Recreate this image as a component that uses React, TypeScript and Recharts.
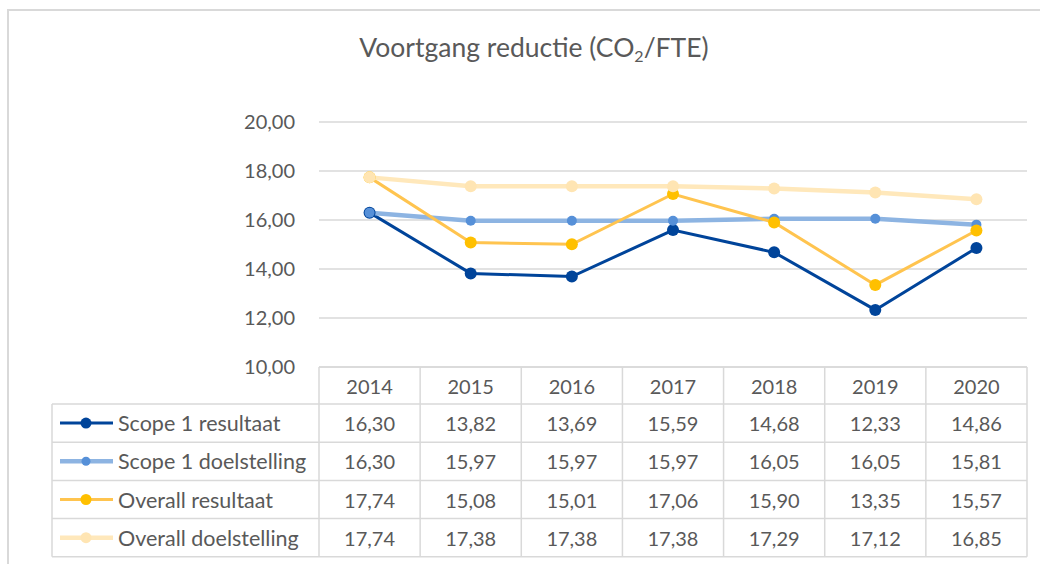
import React from "react";
import { CartesianGrid, Line, LineChart, XAxis, YAxis } from "recharts";

// Data (CO2 per FTE)
const years = ["2014", "2015", "2016", "2017", "2018", "2019", "2020"];
const scope1Result = [16.3, 13.82, 13.69, 15.59, 14.68, 12.33, 14.86];
const scope1Target = [16.3, 15.97, 15.97, 15.97, 16.05, 16.05, 15.81];
const overallResult = [17.74, 15.08, 15.01, 17.06, 15.9, 13.35, 15.57];
const overallTarget = [17.74, 17.38, 17.38, 17.38, 17.29, 17.12, 16.85];
const yTicks = [10, 12, 14, 16, 18, 20];

const FONT = "Lato, 'Open Sans', sans-serif";
const TEXT = "#595959";
const BORDER = "#d9d9d9";

const series = [
  { key: "s1r", name: "Scope 1 resultaat", values: scope1Result, line: "#00449a", dot: "#00449a", width: 3, r: 6 },
  { key: "s1t", name: "Scope 1 doelstelling", values: scope1Target, line: "#8db4e2", dot: "#5690d8", width: 4.5, r: 5 },
  { key: "or", name: "Overall resultaat", values: overallResult, line: "#ffc44f", dot: "#ffc000", width: 3, r: 6 },
  { key: "ot", name: "Overall doelstelling", values: overallTarget, line: "#ffe8bb", dot: "#ffe5b3", width: 4.5, r: 6 },
];

const data = years.map((year, i) => {
  const row: Record<string, string | number> = { year };
  series.forEach((s) => (row[s.key] = s.values[i]));
  return row;
});

const fmt = (v: number) => v.toFixed(2).replace(".", ",");

// table geometry
const W = 1040;
const PLOT_LEFT = 319;
const PLOT_RIGHT = 1027;
const PLOT_TOP = 122;
const PLOT_BOTTOM = 367;
const HEADER_H = 37;
const ROW_H = 38.2;
const LEGEND_LEFT = 52;
const BAND = (PLOT_RIGHT - PLOT_LEFT) / years.length;

function TableTick(props: any) {
  const { x, y, payload, index } = props;
  const left = x - BAND / 2;
  const bottom = y + HEADER_H + ROW_H * series.length;
  return (
    <g>
      <line x1={left} x2={left} y1={y} y2={bottom} stroke={BORDER} strokeWidth={1.5} />
      {index === years.length - 1 && (
        <line x1={left + BAND} x2={left + BAND} y1={y} y2={bottom} stroke={BORDER} strokeWidth={1.5} />
      )}
      <text x={x} y={y + HEADER_H / 2} textAnchor="middle" dominantBaseline="central" fill={TEXT} fontSize={20} fontFamily={FONT}>
        {payload.value}
      </text>
      {series.map((s, j) => (
        <text
          key={s.key}
          x={x}
          y={y + HEADER_H + ROW_H * j + ROW_H / 2}
          textAnchor="middle"
          dominantBaseline="central"
          fill={TEXT}
          fontSize={20}
          fontFamily={FONT}
        >
          {fmt(s.values[index])}
        </text>
      ))}
    </g>
  );
}

function TableFrame() {
  const rowsTop = PLOT_BOTTOM + HEADER_H;
  return (
    <svg width={W} height={564} style={{ position: "absolute", left: 0, top: 0, pointerEvents: "none" }}>
      {series.map((s, j) => {
        const top = rowsTop + ROW_H * j;
        const cy = top + ROW_H / 2;
        return (
          <g key={s.key}>
            <line x1={LEGEND_LEFT} x2={PLOT_RIGHT} y1={top} y2={top} stroke={BORDER} strokeWidth={1.5} />
            <line x1={60} x2={113} y1={cy} y2={cy} stroke={s.line} strokeWidth={s.width} />
            <circle cx={86} cy={cy} r={s.r - 0.5} fill={s.dot} />
            <text x={118} y={cy} dominantBaseline="central" fill={TEXT} fontSize={21.5} fontFamily={FONT}>
              {s.name}
            </text>
          </g>
        );
      })}
      <line
        x1={LEGEND_LEFT}
        x2={PLOT_RIGHT}
        y1={rowsTop + ROW_H * series.length}
        y2={rowsTop + ROW_H * series.length}
        stroke={BORDER}
        strokeWidth={1.5}
      />
      <line x1={LEGEND_LEFT} x2={LEGEND_LEFT} y1={rowsTop} y2={rowsTop + ROW_H * series.length} stroke={BORDER} strokeWidth={1.5} />
    </svg>
  );
}

export default function App() {
  return (
    <div style={{ position: "absolute", left: 0, top: 0, width: W, height: 564, background: "#fff", overflow: "hidden", fontFamily: FONT }}>
      <div style={{ position: "absolute", left: 7, top: 9, width: 1100, height: 700, border: `2px solid ${BORDER}`, boxSizing: "border-box" }} />
      <div
        style={{ position: "absolute", left: 0, width: 1068, top: 31, textAlign: "center", fontSize: 26.5, color: TEXT, lineHeight: "32px" }}
      >
        Voortgang reductie (CO<sub style={{ fontSize: 16, verticalAlign: "-5px" }}>2</sub>/FTE)
      </div>
      <div style={{ position: "absolute", left: 0, top: 0 }}>
        <LineChart
          width={W}
          height={564}
          data={data}
          margin={{ top: PLOT_TOP, right: W - PLOT_RIGHT, bottom: 0, left: PLOT_LEFT - 80 }}
        >
          <CartesianGrid vertical={false} stroke={BORDER} strokeWidth={1.5} />
          <XAxis
            dataKey="year"
            height={564 - PLOT_BOTTOM}
            padding={{ left: BAND / 2, right: BAND / 2 }}
            axisLine={{ stroke: BORDER, strokeWidth: 1.5 }}
            tickLine={false}
            tickSize={0}
            tickMargin={0}
            interval={0}
            tick={<TableTick />}
          />
          <YAxis
            width={80}
            domain={[10, 20]}
            ticks={yTicks}
            axisLine={false}
            tickLine={false}
            tickSize={0}
            tickMargin={24}
            tickFormatter={fmt}
            tick={{ fill: TEXT, fontSize: 20, fontFamily: FONT }}
          />
          {series.map((s) => (
            <Line
              key={s.key}
              dataKey={s.key}
              name={s.name}
              type="linear"
              stroke={s.line}
              strokeWidth={s.width}
              dot={{ r: s.r, fill: s.dot, stroke: s.dot, strokeWidth: 0 }}
              activeDot={false}
              isAnimationActive={false}
            />
          ))}
        </LineChart>
      </div>
      <TableFrame />
    </div>
  );
}
